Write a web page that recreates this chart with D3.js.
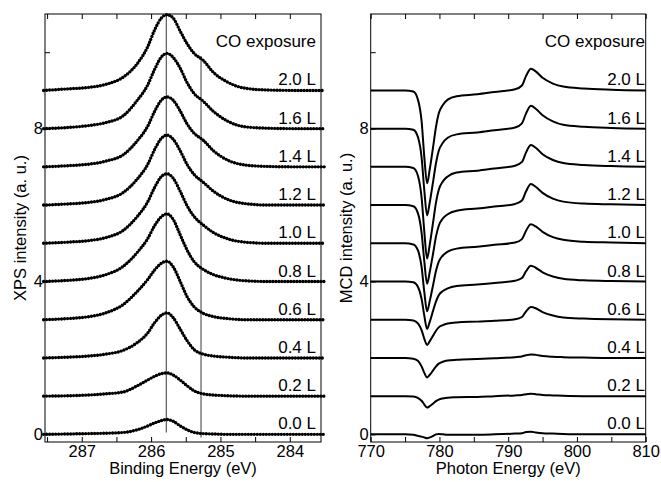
<!DOCTYPE html>
<html>
<head>
<meta charset="utf-8">
<script src="https://cdn.jsdelivr.net/npm/d3@7"></script>
<style>
  html, body { margin: 0; padding: 0; background: #fff; }
  svg { display: block; font-family: "Liberation Sans", Arial, Helvetica, sans-serif; }
</style>
</head>
<body>
<svg id="chart" width="661" height="482"></svg>
<script>
// exposure labels and vertical offsets of each spectrum (bottom to top)
const exposures = ['0.0 L', '0.2 L', '0.4 L', '0.6 L', '0.8 L', '1.0 L', '1.2 L', '1.4 L', '1.6 L', '2.0 L'];
const offsets = [0, 1, 2, 3, 4, 5, 6, 7, 8, 9];

// XPS (C 1s) spectra, intensity above each baseline
const xpsEnergy = [287.55, 287.2, 286.9, 286.65, 286.4, 286.2, 286.05, 285.95, 285.85, 285.77, 285.68,
  285.58, 285.48, 285.38, 285.25, 285.1, 284.9, 284.65, 284.3, 283.9, 283.5];
const xps00 = [0, 0.01, 0.02, 0.03, 0.05, 0.12, 0.22, 0.30, 0.36, 0.39, 0.34, 0.22, 0.12, 0.05, 0.02, 0.01, 0, 0, 0, 0, 0];
const xps02 = [0, 0.01, 0.03, 0.06, 0.11, 0.27, 0.42, 0.52, 0.59, 0.61, 0.55, 0.42, 0.27, 0.14, 0.06, 0.03, 0.01, 0, 0, 0, 0];
const xps04 = [0, 0.02, 0.05, 0.10, 0.20, 0.40, 0.65, 0.92, 1.12, 1.18, 1.05, 0.75, 0.45, 0.22, 0.10, 0.05, 0.02, 0, 0, 0, 0];
const xps06 = [0, 0.03, 0.08, 0.18, 0.40, 0.74, 1.05, 1.30, 1.48, 1.53, 1.38, 1.00, 0.60, 0.34, 0.17, 0.08, 0.03, 0, 0, 0, 0];
const xps08 = [0, 0.03, 0.08, 0.18, 0.40, 0.76, 1.12, 1.46, 1.70, 1.77, 1.62, 1.22, 0.82, 0.52, 0.32, 0.18, 0.08, 0.02, 0, 0, 0];
const xps10 = [0, 0.03, 0.07, 0.15, 0.34, 0.70, 1.08, 1.46, 1.75, 1.82, 1.70, 1.36, 0.98, 0.70, 0.48, 0.28, 0.12, 0.03, 0, 0, 0];
const xps12 = [0, 0.03, 0.07, 0.15, 0.33, 0.68, 1.06, 1.45, 1.75, 1.83, 1.72, 1.42, 1.06, 0.80, 0.60, 0.36, 0.15, 0.04, 0, 0, 0];
const xps14 = [0, 0.03, 0.07, 0.15, 0.32, 0.68, 1.06, 1.45, 1.75, 1.83, 1.74, 1.46, 1.12, 0.88, 0.70, 0.42, 0.18, 0.05, 0.01, 0, 0];
const xps16 = [0, 0.03, 0.08, 0.16, 0.34, 0.74, 1.14, 1.55, 1.88, 1.97, 1.86, 1.58, 1.20, 0.92, 0.72, 0.45, 0.20, 0.05, 0.01, 0, 0];
const xps20 = [0, 0.04, 0.08, 0.16, 0.35, 0.70, 1.14, 1.58, 1.90, 1.98, 1.89, 1.55, 1.22, 0.97, 0.79, 0.47, 0.22, 0.06, 0.01, 0, 0];
const xpsSeries = [xps00, xps02, xps04, xps06, xps08, xps10, xps12, xps14, xps16, xps20];

// vertical guide lines in the XPS panel: energy, lower and upper end (a. u.)
const markerEnergy = [285.78, 285.28];
const markerBottom = [0.05, -0.08];
const markerTop = [11, 9.9];

// MCD spectra, intensity relative to each baseline
const mcdEnergy = [770, 775, 776.2, 776.9, 777.4, 777.8, 778.2, 778.6, 779.1, 779.5, 779.9, 780.5, 781.2,
  782.5, 785.5, 788, 791, 792, 792.6, 793.3, 794, 795, 796.5, 798, 801, 805, 810];
const mcd00 = [0, 0, -0.01, -0.04, -0.06, -0.08, -0.1, -0.08, -0.04, 0, 0.01, 0, -0.01, -0.01, -0.01, 0, 0.02, 0.03, 0.06, 0.07, 0.05, 0.03, 0.02, 0.01, 0, 0, 0];
const mcd02 = [0, 0, -0.01, -0.05, -0.12, -0.22, -0.30, -0.26, -0.19, -0.13, -0.09, -0.06, -0.04, -0.03, -0.02, 0, 0.02, 0.03, 0.05, 0.06, 0.05, 0.03, 0.02, 0.01, 0, 0, 0];
const mcd04 = [0, 0, -0.02, -0.08, -0.22, -0.39, -0.51, -0.44, -0.32, -0.22, -0.15, -0.1, -0.07, -0.05, -0.03, -0.01, 0.02, 0.04, 0.07, 0.09, 0.08, 0.05, 0.03, 0.02, 0.01, 0, 0];
const mcd06 = [0, 0, -0.02, -0.1, -0.27, -0.5, -0.66, -0.56, -0.41, -0.29, -0.2, -0.14, -0.1, -0.07, -0.05, -0.03, 0.01, 0.07, 0.22, 0.33, 0.3, 0.2, 0.11, 0.06, 0.03, 0.01, 0];
const mcd08 = [0, 0, -0.02, -0.15, -0.45, -0.9, -1.24, -1.05, -0.75, -0.52, -0.36, -0.25, -0.18, -0.12, -0.08, -0.04, 0.02, 0.09, 0.27, 0.41, 0.36, 0.24, 0.13, 0.07, 0.03, 0.01, 0];
const mcd10 = [0, 0, -0.03, -0.2, -0.62, -1.28, -1.78, -1.5, -1.07, -0.72, -0.48, -0.32, -0.22, -0.14, -0.09, -0.04, 0.02, 0.11, 0.33, 0.5, 0.44, 0.3, 0.16, 0.09, 0.04, 0.02, 0];
const mcd12 = [0, 0, -0.03, -0.23, -0.72, -1.48, -2.06, -1.74, -1.24, -0.82, -0.54, -0.35, -0.24, -0.15, -0.09, -0.04, 0.03, 0.12, 0.36, 0.55, 0.48, 0.32, 0.17, 0.09, 0.04, 0.02, 0];
const mcd14 = [0, 0, -0.03, -0.25, -0.8, -1.7, -2.40, -2.02, -1.42, -0.93, -0.6, -0.38, -0.25, -0.15, -0.1, -0.04, 0.03, 0.13, 0.38, 0.57, 0.5, 0.33, 0.18, 0.1, 0.05, 0.02, 0];
const mcd16 = [0, 0, -0.03, -0.24, -0.75, -1.62, -2.27, -1.92, -1.36, -0.9, -0.58, -0.37, -0.24, -0.15, -0.1, -0.04, 0.03, 0.14, 0.4, 0.6, 0.52, 0.35, 0.19, 0.1, 0.05, 0.02, 0];
const mcd20 = [0, 0, -0.03, -0.26, -0.8, -1.75, -2.43, -2.05, -1.45, -0.95, -0.6, -0.38, -0.24, -0.15, -0.1, -0.04, 0.03, 0.13, 0.38, 0.57, 0.5, 0.33, 0.18, 0.1, 0.05, 0.02, 0];
const mcdSeries = [mcd00, mcd02, mcd04, mcd06, mcd08, mcd10, mcd12, mcd14, mcd16, mcd20];

// axis ticks
const yTicks = [0, 2, 4, 6, 8, 10];
const yLabels = [0, 4, 8];
const xpsTicks = [287.5, 287, 286.5, 286, 285.5, 285, 284.5, 284];
const xpsLabels = [287, 286, 285, 284];
const mcdTicks = [770, 775, 780, 785, 790, 795, 800, 805, 810];
const mcdLabels = [770, 780, 790, 800, 810];

const svg = d3.select('#chart');
const plotTop = 14, plotBottom = 442;
const y = d3.scaleLinear().domain([-0.2, 11]).range([plotBottom, plotTop]);

function drawPanel(opt) {
  const x = d3.scaleLinear().domain(opt.domain).range([opt.left, opt.right]);
  const g = svg.append('g');

  // inward ticks, bottom / top / left
  const bottomAxis = d3.axisBottom(x).tickValues(opt.ticks).tickSizeInner(-5).tickSizeOuter(0).tickPadding(3)
    .tickFormat(d => opt.labels.includes(d) ? d : '');
  const topAxis = d3.axisTop(x).tickValues(opt.ticks).tickSizeInner(-5).tickSizeOuter(0).tickFormat('');
  const leftAxis = d3.axisLeft(y).tickValues(yTicks).tickSizeInner(-5).tickSizeOuter(0).tickPadding(2)
    .tickFormat(d => yLabels.includes(d) ? d : '');

  [[bottomAxis, `translate(0,${plotBottom})`], [topAxis, `translate(0,${plotTop})`], [leftAxis, `translate(${opt.left},0)`]]
    .forEach(([ax, tr]) => {
      const a = g.append('g').attr('transform', tr).call(ax);
      a.attr('font-family', null).attr('font-size', 16.5);
      a.select('.domain').remove();
      a.selectAll('line').attr('stroke', '#000').attr('stroke-width', 1);
      a.selectAll('text').attr('fill', '#000');
    });

  g.append('rect')
    .attr('x', opt.left).attr('y', plotTop)
    .attr('width', opt.right - opt.left).attr('height', plotBottom - plotTop)
    .attr('fill', 'none').attr('stroke', '#000').attr('stroke-width', 1);

  if (opt.markers) {
    g.selectAll('.marker').data(markerEnergy).enter().append('line')
      .attr('class', 'marker')
      .attr('x1', d => x(d)).attr('x2', d => x(d))
      .attr('y1', (d, i) => y(markerBottom[i])).attr('y2', (d, i) => y(markerTop[i]))
      .attr('stroke', '#666').attr('stroke-width', 1.3);
  }

  const line = d3.line()
    .x(d => x(d[0]))
    .y(d => y(d[1]))
    .curve(d3.curveMonotoneX);

  opt.series.forEach((vals, i) => {
    const pts = opt.energy.map((e, k) => [e, vals[k] + offsets[i]]);
    if (opt.domain[0] > opt.domain[1]) pts.sort((a, b) => b[0] - a[0]);
    const p = g.append('path')
      .attr('d', line(pts))
      .attr('fill', 'none')
      .attr('stroke', '#000');
    if (opt.dotted) {
      p.attr('stroke-width', 3.4).attr('stroke-linecap', 'round').attr('stroke-dasharray', '0 3');
    } else {
      p.attr('stroke-width', 2).attr('stroke-linejoin', 'round');
    }
  });

  // exposure labels sit just on their baseline
  g.selectAll('.lab').data(exposures).enter().append('text')
    .attr('x', opt.labelX)
    .attr('y', (d, i) => y(offsets[i]) - 5)
    .attr('text-anchor', 'end')
    .attr('font-size', 17)
    .text(d => d);
  g.append('text')
    .attr('x', opt.labelX)
    .attr('y', y(offsets[offsets.length - 1] + 1) - 5)
    .attr('text-anchor', 'end')
    .attr('font-size', 17)
    .text('CO exposure');

  g.append('text')
    .attr('x', (opt.left + opt.right) / 2)
    .attr('y', 474)
    .attr('text-anchor', 'middle')
    .attr('font-size', 16.5)
    .text(opt.xTitle);
  g.append('text')
    .attr('transform', `translate(${opt.left - 19},${(plotTop + plotBottom) / 2}) rotate(-90)`)
    .attr('text-anchor', 'middle')
    .attr('font-size', 16.5)
    .text(opt.yTitle);
}

drawPanel({
  left: 45, right: 321, domain: [287.53, 283.55],
  ticks: xpsTicks, labels: xpsLabels,
  energy: xpsEnergy, series: xpsSeries, dotted: true, markers: true,
  labelX: 316, xTitle: 'Binding Energy (eV)', yTitle: 'XPS intensity (a. u.)'
});
drawPanel({
  left: 370.7, right: 645.7, domain: [770, 810],
  ticks: mcdTicks, labels: mcdLabels,
  energy: mcdEnergy, series: mcdSeries, dotted: false, markers: false,
  labelX: 645, xTitle: 'Photon Energy (eV)', yTitle: 'MCD intensity (a. u.)'
});
</script>
</body>
</html>
